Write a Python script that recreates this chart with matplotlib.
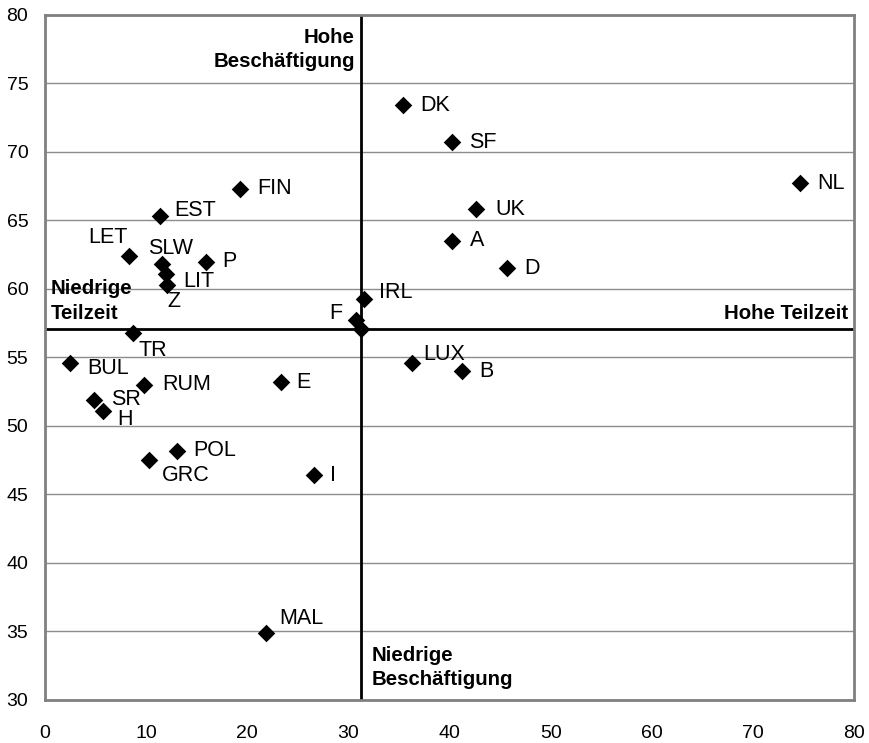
import matplotlib.pyplot as plt

plt.rcParams['font.family'] = ['Liberation Sans', 'DejaVu Sans']

# Teilzeitquote (x) und Beschäftigungsquote (y)
laender = ['DK', 'SF', 'NL', 'UK', 'A', 'D', 'IRL', 'F', '', 'LUX', 'B', 'E', 'I',
           'MAL', 'POL', 'GRC', 'RUM', 'SR', 'H', 'BUL', 'TR', 'Z', 'LIT', 'SLW',
           'LET', 'P', 'EST', 'FIN']
teilzeit = [35.4, 40.2, 74.6, 42.6, 40.2, 45.7, 31.5, 30.7, 31.2, 36.3, 41.2, 23.3, 26.6,
            21.8, 13.0, 10.3, 9.8, 4.8, 5.7, 2.5, 8.7, 12.1, 12.0, 11.6,
            8.3, 15.9, 11.4, 19.3]
beschaeftigung = [73.4, 70.7, 67.7, 65.8, 63.5, 61.5, 59.3, 57.7, 57.1, 54.6, 54.0, 53.2, 46.4,
                  34.9, 48.2, 47.5, 53.0, 51.9, 51.1, 54.6, 56.8, 60.3, 61.1, 61.8,
                  62.4, 62.0, 65.3, 67.3]

# Mittelwerte (Quadrantenlinien)
mittel_x = 31.2
mittel_y = 57.1

# Beschriftungsversatz in Pixeln (dx, dy, ha)
versatz = {
    'DK': (17, 0, 'left'), 'SF': (17, 0, 'left'), 'NL': (18, 0, 'left'),
    'UK': (19, 0, 'left'), 'A': (18, 0, 'left'), 'D': (17, 0, 'left'),
    'IRL': (15, 6, 'left'), 'F': (-13, 7, 'right'), 'LUX': (11, 8, 'left'),
    'B': (17, 0, 'left'), 'E': (16, 0, 'left'), 'I': (16, 0, 'left'),
    'MAL': (14, 14, 'left'), 'POL': (17, 0, 'left'), 'GRC': (13, -15, 'left'),
    'RUM': (18, 0, 'left'), 'SR': (17, 0, 'left'), 'H': (15, -9, 'left'),
    'BUL': (17, -6, 'left'), 'TR': (5, -18, 'left'), 'Z': (0, -17, 'left'),
    'LIT': (17, -8, 'left'), 'SLW': (-14, 16, 'left'), 'LET': (-1, 19, 'right'),
    'P': (16, 0, 'left'), 'EST': (14, 6, 'left'), 'FIN': (17, 0, 'left'),
}

fig = plt.figure(figsize=(8.69, 7.43), dpi=100)
ax = fig.add_axes([0.0518, 0.0579, 0.9313, 0.922])

ax.set_xlim(0, 80)
ax.set_ylim(30, 80)
ax.set_xticks(range(0, 81, 10))
ax.set_yticks(range(30, 81, 5))
ax.tick_params(length=0, labelsize=14)
ax.tick_params(axis='x', pad=18)
ax.tick_params(axis='y', pad=12)
ax.yaxis.grid(True, color='#8c8c8c', linewidth=1)
ax.set_axisbelow(True)
for s in ax.spines.values():
    s.set_color('#808080')
    s.set_linewidth(2)

ax.axvline(mittel_x, color='black', linewidth=2, zorder=2)
ax.axhline(mittel_y, color='black', linewidth=2, zorder=2)

ax.scatter(teilzeit, beschaeftigung, marker='D', s=80, color='black', zorder=3,
           linewidths=0)

px2pt = 72 / 100
for name, x, y in zip(laender, teilzeit, beschaeftigung):
    if not name:
        continue
    dx, dy, ha = versatz[name]
    ax.annotate(name, (x, y), xytext=(dx * px2pt, dy * px2pt), textcoords='offset points',
                ha=ha, va='center', fontsize=15.5)

bold = dict(fontsize=14.7, fontweight='bold')
ax.annotate('Hohe\nBeschäftigung', (mittel_x, 80), xytext=(-6 * px2pt, -13 * px2pt),
            textcoords='offset points', ha='right', va='top', linespacing=1.35, **bold)
ax.annotate('Niedrige\nBeschäftigung', (mittel_x, 30), xytext=(11 * px2pt, 11 * px2pt),
            textcoords='offset points', ha='left', va='bottom', linespacing=1.35, **bold)
ax.annotate('Niedrige\nTeilzeit', (0, mittel_y), xytext=(6 * px2pt, 6 * px2pt),
            textcoords='offset points', ha='left', va='bottom', linespacing=1.35, **bold)
ax.annotate('Hohe Teilzeit', (80, mittel_y), xytext=(-6 * px2pt, 6 * px2pt),
            textcoords='offset points', ha='right', va='bottom', **bold)

fig.savefig('out.png', dpi=100)
